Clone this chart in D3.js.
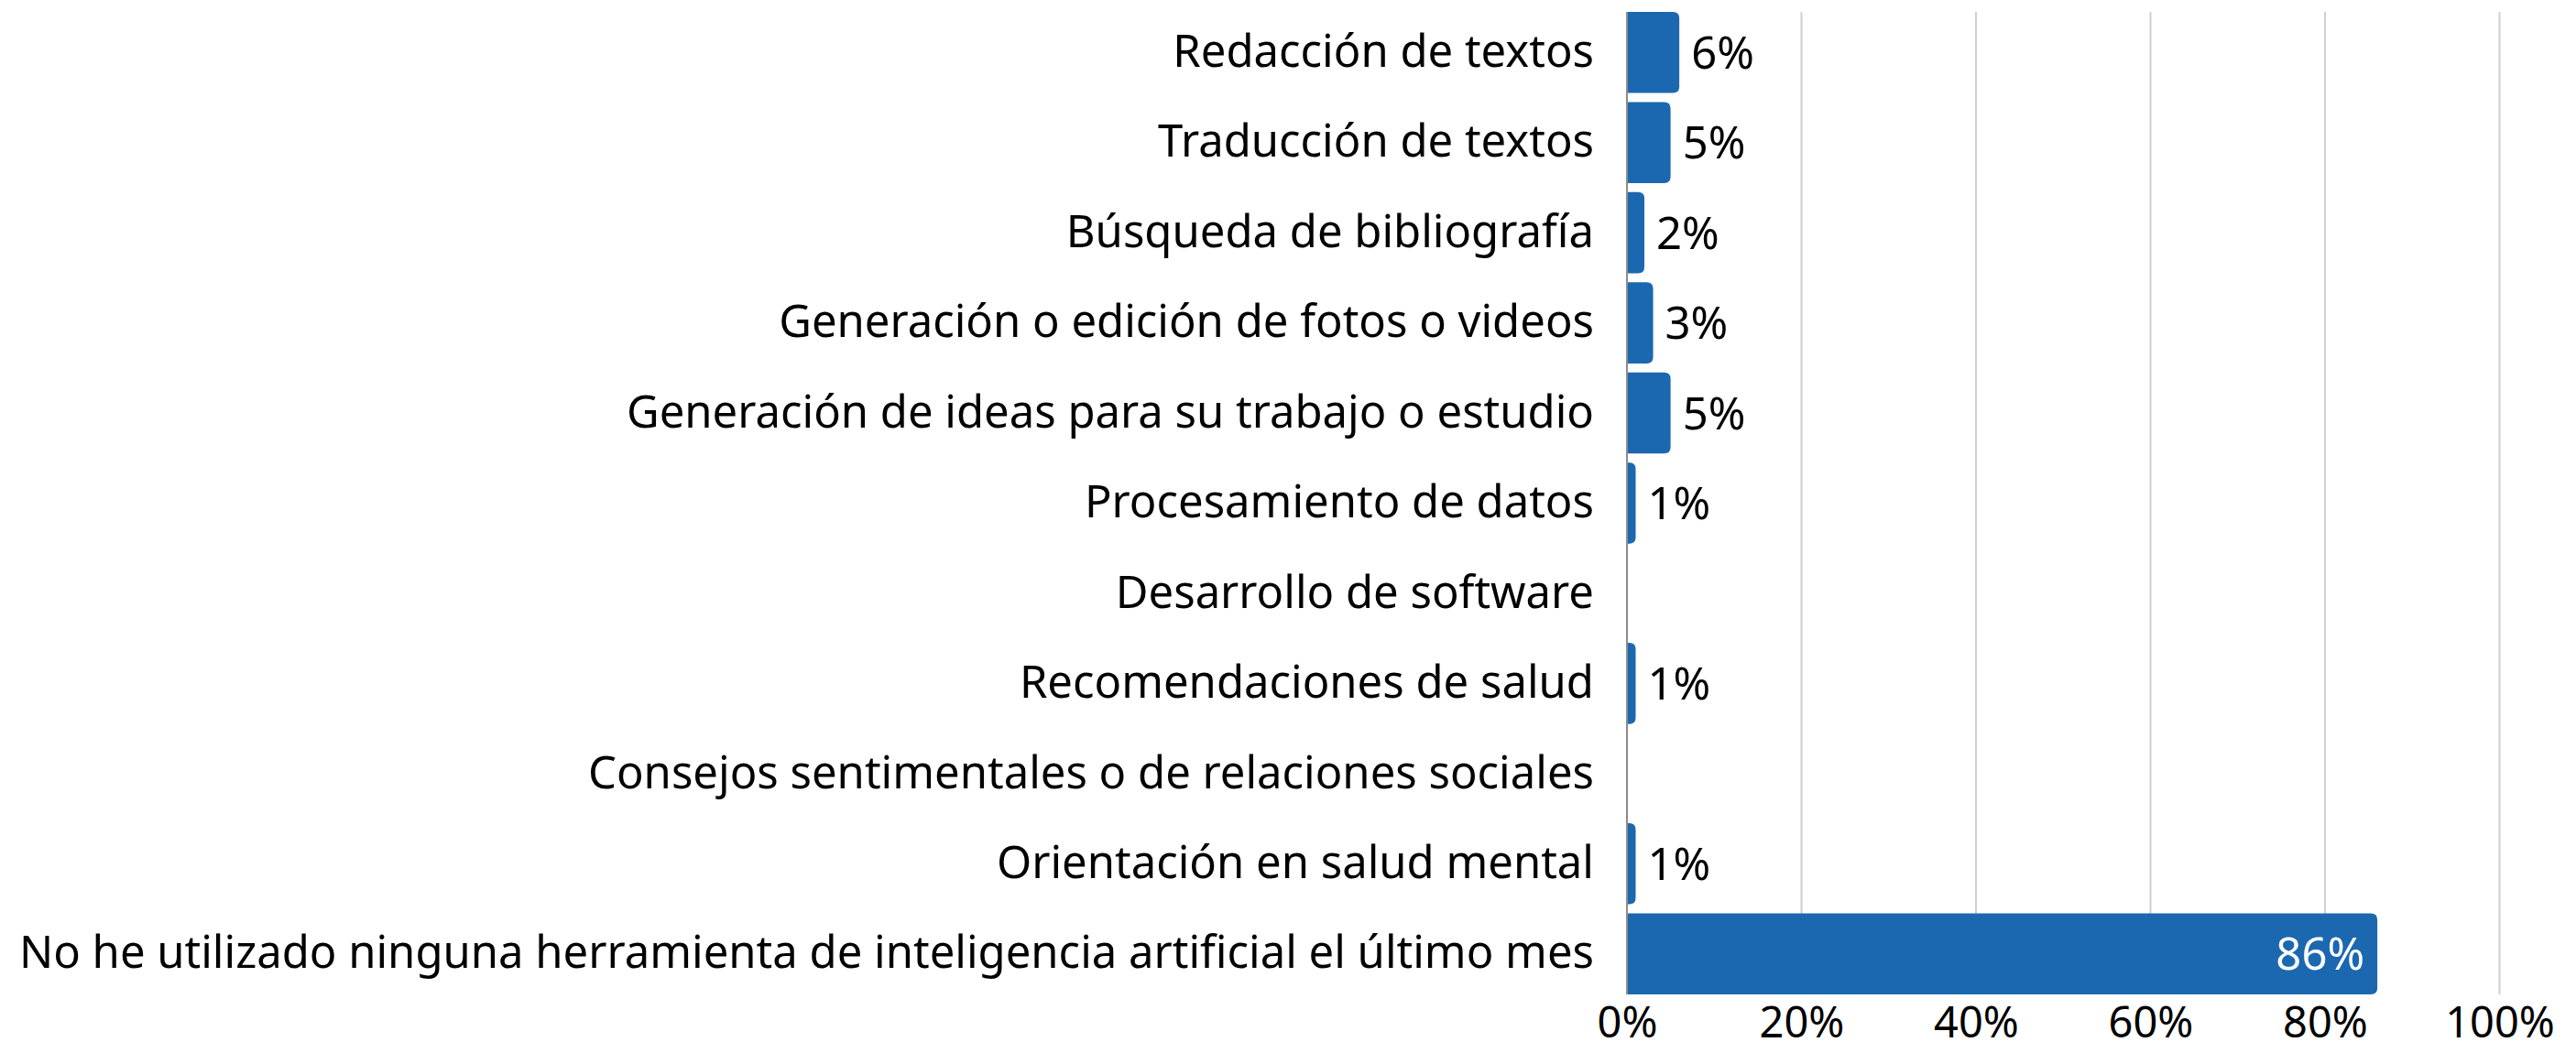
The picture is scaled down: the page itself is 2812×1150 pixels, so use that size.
<!DOCTYPE html>
<html>
<head>
<meta charset="utf-8">
<script src="https://cdn.jsdelivr.net/npm/d3@7"></script>
<style>
  html, body { margin: 0; padding: 0; background: #fff; }
  svg text { font-family: "Noto Sans", "Open Sans", sans-serif; }
</style>
</head>
<body>
<div id="chart"></div>
<script>
"use strict";

const categories = [
    "Redacción de textos",
    "Traducción de textos",
    "Búsqueda de bibliografía",
    "Generación o edición de fotos o videos",
    "Generación de ideas para su trabajo o estudio",
    "Procesamiento de datos",
    "Desarrollo de software",
    "Recomendaciones de salud",
    "Consejos sentimentales o de relaciones sociales",
    "Orientación en salud mental",
    "No he utilizado ninguna herramienta de inteligencia artificial el último mes"
];
const values = [6, 5, 2, 3, 5, 1, 0, 1, 0, 1, 86];
const x_ticks = [0, 20, 40, 60, 80, 100];

const width = 2812, height = 1150;
const bar_color = "#1c68b0";

const rows = categories.map((c, i) => { return {name: c, value: values[i]}; });

const svg = d3.select("#chart").append("svg")
    .attr("width", width)
    .attr("height", height);

const x = d3.scaleLinear().domain([0, 100]).range([1776, 2728.5]);
const y = d3.scaleBand().domain(categories).range([8, 1091])
    .paddingInner(0.1).paddingOuter(0.05);

const top_y = y(categories[0]);
const bottom_y = y(categories[categories.length - 1]) + y.bandwidth();

// gridlines
svg.append("g").selectAll("line")
    .data(x_ticks.filter(d => d > 0))
    .join("line")
    .attr("x1", d => x(d)).attr("x2", d => x(d))
    .attr("y1", top_y).attr("y2", bottom_y)
    .attr("stroke", "#d0d0d0")
    .attr("stroke-width", 2);

// x tick labels
const x_axis = svg.append("g")
    .attr("transform", "translate(0," + bottom_y + ")")
    .call(d3.axisBottom(x).tickValues(x_ticks).tickFormat(d => d + "%").tickSize(0).tickPadding(14));
x_axis.select(".domain").remove();
x_axis.selectAll("text")
    .style("font-size", "47px")
    .style("fill", "#000")
    .style("font-family", "Noto Sans");

// category labels
const y_axis = svg.append("g")
    .attr("transform", "translate(" + x(0) + ",0)")
    .call(d3.axisLeft(y).tickSize(0).tickPadding(36));
y_axis.select(".domain").remove();
y_axis.selectAll("text")
    .style("font-size", "49px")
    .style("fill", "#000")
    .style("font-family", "Noto Sans");

// bars with rounded right end
const r = 7;
const bar_path = function(d){
    const x0 = x(0), x1 = x(d.value), y0 = y(d.name), h = y.bandwidth();
    const rr = Math.min(r, (x1 - x0));
    return "M" + x0 + "," + y0 +
        "H" + (x1 - rr) +
        "Q" + x1 + "," + y0 + " " + x1 + "," + (y0 + rr) +
        "V" + (y0 + h - rr) +
        "Q" + x1 + "," + (y0 + h) + " " + (x1 - rr) + "," + (y0 + h) +
        "H" + x0 + "Z";
};

svg.append("g").selectAll("path")
    .data(rows.filter(d => d.value > 0))
    .join("path")
    .attr("d", bar_path)
    .attr("fill", bar_color);

// zero axis line
svg.append("line")
    .attr("x1", x(0)).attr("x2", x(0))
    .attr("y1", top_y).attr("y2", bottom_y)
    .attr("stroke", "#8c8c8c")
    .attr("stroke-width", 2);

// value labels
svg.append("g").selectAll("text")
    .data(rows.filter(d => d.value > 0))
    .join("text")
    .attr("x", d => d.value > 50 ? x(d.value) - 14 : x(d.value) + 13)
    .attr("y", d => y(d.name) + y.bandwidth() / 2)
    .attr("dy", "0.36em")
    .attr("text-anchor", d => d.value > 50 ? "end" : "start")
    .style("font-size", "49px")
    .style("fill", d => d.value > 50 ? "#fff" : "#000")
    .text(d => d.value + "%");
</script>
</body>
</html>
